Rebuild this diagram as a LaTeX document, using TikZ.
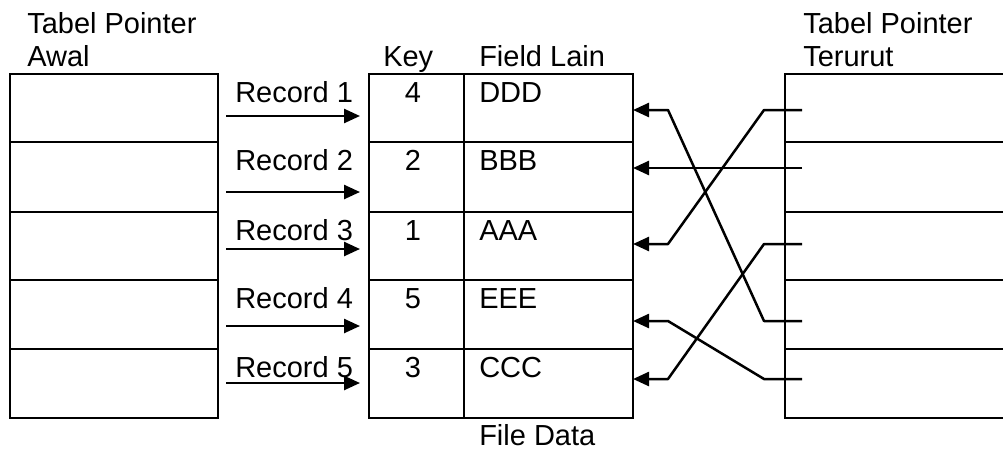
\documentclass[tikz,border=0pt]{standalone}
\usepackage{fontspec}
\setmainfont{Liberation Sans}
\usetikzlibrary{arrows.meta}
\begin{document}
\begin{tikzpicture}[x=1pt,y=-1pt,line width=2.5pt,
  lbl/.style={anchor=base west,inner sep=0pt,font=\fontsize{29}{33}\selectfont},
  num/.style={anchor=base,inner sep=0pt,font=\fontsize{29}{33}\selectfont},
  ptr/.style={-{Triangle[length=16pt,width=14pt]},line width=2.5pt,line join=round}]
\useasboundingbox (0,0) rectangle (1003,453);

% ---- left table: Tabel Pointer Awal
\draw (10,74) rectangle (218,418);
\foreach \y in {142,212,280,349} \draw (10,\y) -- (218,\y);

% ---- middle table: File Data (Key | Field Lain)
\draw (369,74) rectangle (633,418);
\draw (464,74) -- (464,418);
\foreach \y in {142,212,280,349} \draw (369,\y) -- (633,\y);

% ---- right table: Tabel Pointer Terurut (runs off the right edge)
\draw (1003,74) -- (785,74) -- (785,418) -- (1003,418);
\foreach \y in {142,212,280,349} \draw (785,\y) -- (1003,\y);

% ---- headings
\node[lbl] (hAwal1) at (26,33) {Tabel Pointer};
\node[lbl] (hAwal2) at (26,66) {Awal};
\node[lbl] (hKey)   at (382,66) {Key};
\node[lbl] (hField) at (478,66) {Field Lain};
\node[lbl] (hUrut1) at (802,33) {Tabel Pointer};
\node[lbl] (hUrut2) at (802,66) {Terurut};
\node[lbl] (hFile)  at (478,445) {File Data};

% ---- records: label baseline / arrow height / key / field
\foreach \i/\b/\a/\k/\f in {1/102/116/4/DDD, 2/170/192/2/BBB, 3/240/249/1/AAA,
                            4/308/326/5/EEE, 5/377/383/3/CCC}{
  \node[lbl] (rec\i) at (234,\b) {Record \i};
  \node[num] (key\i) at (413,\b) {\k};
  \node[lbl] (fld\i) at (478,\b) {\f};
  \coordinate (src\i) at (226,\a);
  \coordinate (dst\i) at (360,\a);
  \draw[ptr] (src\i) -- (dst\i);
}

% ---- sorted pointers: stub, bend points, target edge
\foreach \i/\y in {1/110,2/168,3/244,4/321,5/379}{
  \coordinate (stub\i) at (802,\y);
  \coordinate (sbend\i) at (764,\y);
  \coordinate (tbend\i) at (668,\y);
  \coordinate (tgt\i) at (633,\y);
}
\foreach \s/\t in {1/3,2/2,3/5,4/1,5/4}
  \draw[ptr] (stub\s) -- (sbend\s) -- (tbend\t) -- (tgt\t);
\end{tikzpicture}
\end{document}
